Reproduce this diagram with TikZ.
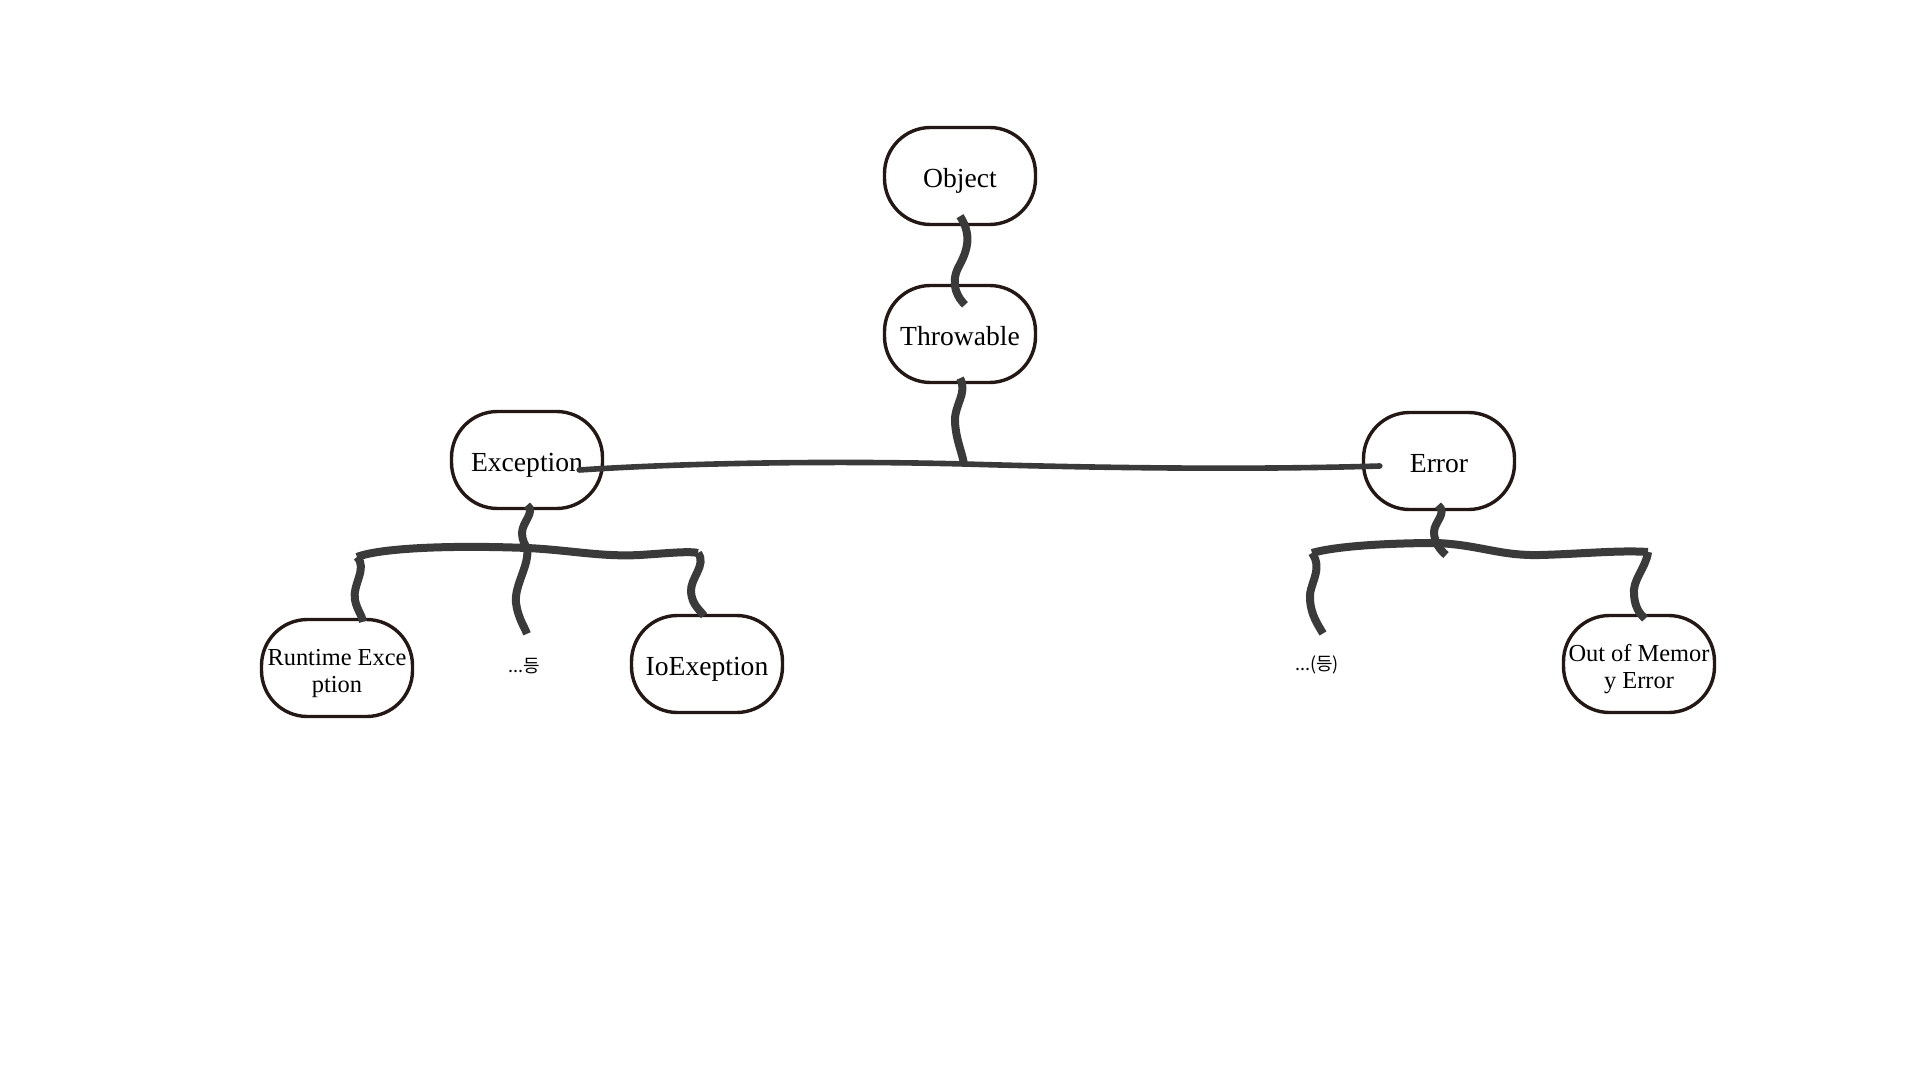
\documentclass[tikz,border=0pt]{standalone}
\usepackage{fontspec}
\setmainfont{Liberation Serif}
\newfontfamily\krfont{Noto Sans CJK KR}
\usetikzlibrary{calc}
\definecolor{edgeclr}{HTML}{231815}
\definecolor{wireclr}{HTML}{3A3A3A}
\begin{document}
\begin{tikzpicture}[x=0.5pt,y=-0.5pt,
  box/.style={draw=edgeclr, line width=1.7pt, rounded corners=23pt, fill=white,
    minimum width=75.5pt, minimum height=48.5pt, inner sep=0pt, align=center,
    text height=14pt, text depth=2.6pt,
    font=\fontsize{13.8}{16}\selectfont},
  smallbox/.style={box, text height=26pt, text depth=2pt,
    font=\fontsize{12.2}{13.5}\selectfont},
  wig/.style={draw=wireclr, line width=4pt, line cap=butt},
  thinwire/.style={draw=wireclr, line width=2.8pt, line cap=round},
  note/.style={font=\krfont\fontsize{9}{11}\selectfont, inner sep=0pt}]
\fill[white] (0,0) rectangle (1920,1080);
\useasboundingbox (0,0) rectangle (1920,1080);

% nodes
\node[box] (obj) at (960,176) {Object};
\node[box] (thr) at (960,334) {Throwable};
\node[box] (exc) at (527,460) {Exception};
\node[box] (err) at (1439,461) {Error};
\node[smallbox] (rte) at (337,668) {Runtime Exce\\ption};
\node[note] (d1) at (524,666) {...등};
\node[box] (ioe) at (707,664) {IoExeption};
\node[note] (d2) at (1317,665) {...(등)};
\node[smallbox] (oom) at (1639,664) {Out of Memor\\y Error};

% junction coordinates
\coordinate (jm) at (964,464);
\coordinate (je) at (527,548);
\coordinate (bl1) at (357,557);
\coordinate (br1) at (698,553);
\coordinate (jr) at (1446,555);
\coordinate (bl2) at (1312,553);
\coordinate (br2) at (1648,552);

% Object -> Throwable
\draw[wig] ($(obj.south)+(0,-10)$) .. controls (972,235) and (968,250) .. (958,268)
  .. controls (950,285) and (958,298) .. ($(thr.north)+(5,21)$);

% Throwable -> main line
\draw[wig] ($(thr.south)+(0,-6)$) .. controls (968,393) and (954,405) .. (955,422)
  .. controls (956,440) and (962,452) .. (jm);

% main horizontal line
\draw[thinwire] ($(exc.east)+(-25,10)$) .. controls (700,462) and (850,461) .. (jm)
  .. controls (1100,468) and (1250,470) .. ($(err.west)+(18,5)$);

% Exception -> its bar
\draw[wig] ($(exc.south)+(0,-5)$) .. controls (536,512) and (522,522) .. (522,533)
  .. controls (522,540) and (525,545) .. (je);
\draw[wig] (bl1) .. controls (380,548) and (450,545) .. (je)
  .. controls (570,550) and (600,557) .. (640,555)
  .. controls (670,553) and (690,551) .. (br1);
\draw[wig] (bl1) .. controls (368,568) and (352,585) .. (355,600)
  .. controls (357,610) and (362,615) .. ($(rte.north)+(26,4)$);
\draw[wig] (je) .. controls (530,565) and (514,585) .. (516,603)
  .. controls (518,618) and (524,626) .. ($(d1.north)+(3,-24)$);
\draw[wig] (br1) .. controls (707,565) and (690,578) .. (691,592)
  .. controls (692,605) and (700,610) .. ($(ioe.north)+(-3,2)$);

% Error -> its bar
\draw[wig] ($(err.south)+(-1,-6)$) .. controls (1448,513) and (1434,522) .. (1434,532)
  .. controls (1434,542) and (1440,550) .. (jr);
\draw[wig] (bl2) .. controls (1340,545) and (1400,543) .. (1437,543)
  .. controls (1480,545) and (1500,556) .. (1540,555)
  .. controls (1580,554) and (1620,550) .. (br2);
\draw[wig] (bl2) .. controls (1324,570) and (1308,585) .. (1310,600)
  .. controls (1311,615) and (1318,625) .. ($(d2.north)+(6,-22)$);
\draw[wig] (br2) .. controls (1646,568) and (1632,580) .. (1634,595)
  .. controls (1635,608) and (1640,614) .. ($(oom.north)+(6,5)$);
\end{tikzpicture}
\end{document}
